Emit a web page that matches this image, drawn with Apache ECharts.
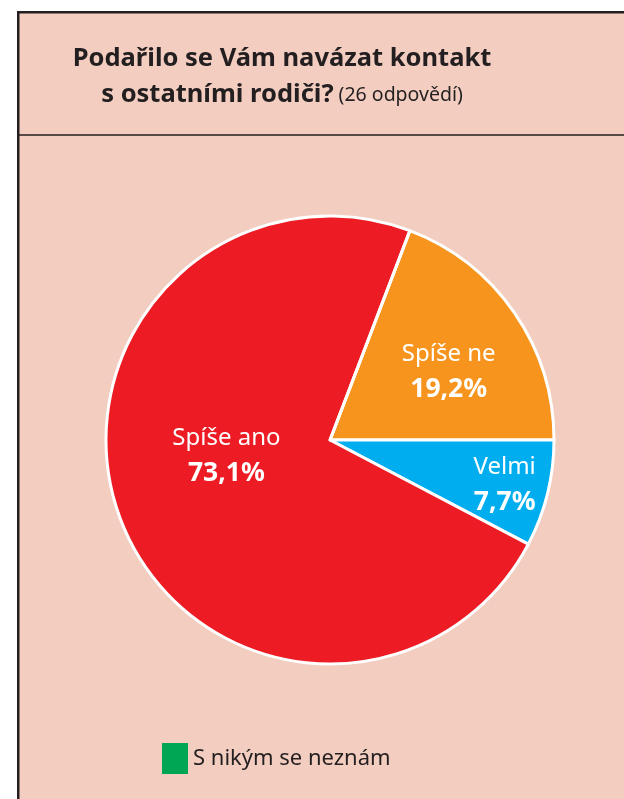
<!DOCTYPE html>
<html><head><meta charset="utf-8">
<script src="https://cdn.jsdelivr.net/npm/echarts@6/dist/echarts.min.js"></script>
<style>html,body{margin:0;padding:0;background:#fff}#c{width:624px;height:799px}</style>
</head><body><div id="c"></div>
<script>
const categories = ['Spíše ne', 'Velmi', 'Spíše ano', 'S nikým se neznám'];
const percents = [19.2, 7.7, 73.1, 0];
const colors = ['#f7941d', '#00aeef', '#ed1c24', '#00a651'];
const titleLine1 = 'Podařilo se Vám navázat kontakt';
const titleLine2 = 's ostatními rodiči?';
const subtitle = '(26 odpovědí)';

const labelOffsets = [[24, -3], [63, 17], [4, -25], [0, 0]];
const font = '"Noto Sans", sans-serif';
const chart = echarts.init(document.getElementById('c'));
chart.setOption({
  backgroundColor: '#ffffff',
  graphic: [
    {type: 'rect', left: 17, top: 11, shape: {width: 620, height: 800}, style: {fill: '#f3cdbf', stroke: '#231f20', lineWidth: 2.5}, z: -10},
    {type: 'line', shape: {x1: 18, y1: 135, x2: 624, y2: 135}, style: {stroke: '#231f20', lineWidth: 1.5}, z: -9}
  ],
  title: {
    text: '{b|' + titleLine1 + '}\n{b|' + titleLine2 + '} {n|' + subtitle + '}',
    left: 277, top: 36, textAlign: 'center',
    textStyle: {
      rich: {
        b: {fontFamily: font, fontWeight: 'bold', fontSize: 25.5, color: '#231f20', lineHeight: 36},
        n: {fontFamily: font, fontWeight: 'normal', fontSize: 19.5, color: '#231f20', lineHeight: 36}
      }
    }
  },
  legend: {
    data: [categories[3]], bottom: 20, left: 157,
    itemWidth: 26, itemHeight: 31,
    icon: 'rect',
    itemStyle: {borderWidth: 0},
    textStyle: {fontFamily: font, fontSize: 22, color: '#231f20'}
  },
  series: [{
    type: 'pie', center: [330, 440], radius: [0, 224],
    startAngle: 360 * percents[0] / 100, clockwise: true,
    avoidLabelOverlap: false,
    itemStyle: {borderColor: '#ffffff', borderWidth: 3},
    emphasis: {disabled: true},
    label: {
      position: 'inside', color: '#ffffff',
      formatter: p => '{a|' + p.name + '}\n{b|' + percents[p.dataIndex].toFixed(1).replace('.', ',') + '%}',
      rich: {
        a: {fontFamily: font, fontSize: 24, color: '#fff', lineHeight: 35},
        b: {fontFamily: font, fontSize: 26.5, fontWeight: 'bold', color: '#fff', lineHeight: 35}
      }
    },
    labelLayout: p => ({dx: labelOffsets[p.dataIndex][0], dy: labelOffsets[p.dataIndex][1]}),
    labelLine: {show: false},
    data: categories.map((c, i) => ({name: c, value: percents[i], itemStyle: {color: colors[i]}, label: {show: percents[i] > 0}}))
  }]
});
</script></body></html>
